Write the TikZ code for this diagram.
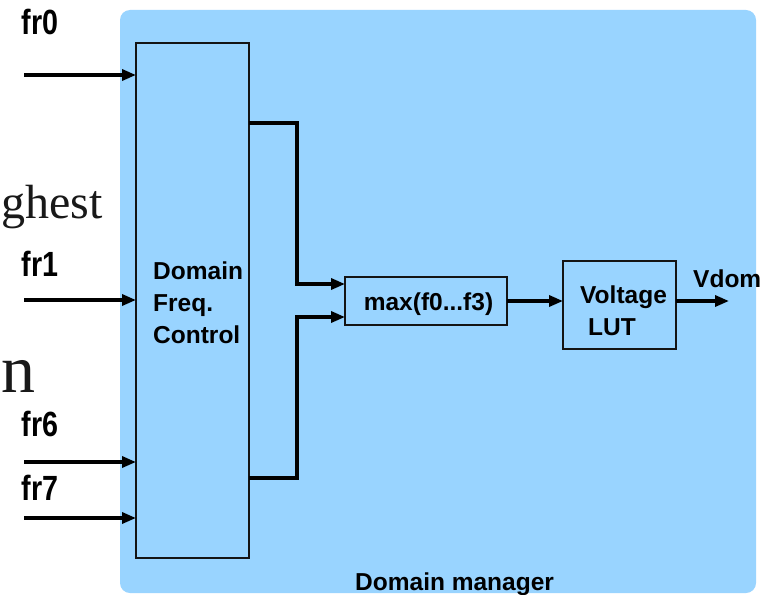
\documentclass[tikz,border=0pt]{standalone}
\usepackage{fontspec}
\setmainfont{Liberation Sans}
\newfontfamily\serifx{Liberation Serif}
\usetikzlibrary{arrows.meta}
\definecolor{bluebg}{RGB}{153,212,255}
\definecolor{edge}{RGB}{20,20,20}
\tikzset{
  box/.style={draw=edge, line width=1.1pt, fill=bluebg, inner sep=0pt, outer sep=0pt},
  wire/.style={line width=3.3pt, black},
  arr/.style={-{Triangle[length=14pt,width=11pt]}},
  lbl/.style={font=\fontsize{24.5}{32}\selectfont\bfseries, inner sep=0pt, align=left},
  frl/.style={font=\fontsize{35}{35}\selectfont\bfseries, inner sep=0pt, xscale=0.82}
}
\begin{document}
\begin{tikzpicture}[x=1pt,y=-1pt]
\useasboundingbox (0,0) rectangle (762,594);
\fill[white] (0,0) rectangle (762,594);
% background text fragments
\node[font=\fontsize{48}{48}\selectfont\serifx, inner sep=0pt, anchor=base west, text=black!90] (t1) at (1,218) {ghest};
\node[font=\fontsize{68}{68}\selectfont\serifx, inner sep=0pt, anchor=base west, text=black!90] (t2) at (1,392) {n};
% domain manager panel
\fill[bluebg, rounded corners=10pt] (120,10) rectangle (756,593);
\node[lbl, anchor=base west] (dm) at (355,590) {Domain manager};
% domain freq control
\node[box, minimum width=113pt, minimum height=515pt, anchor=north west] (dfc) at (136,43) {};
\node[lbl, anchor=base west] (dfct) at (153,343) {Domain\\Freq.\\Control};
% max box
\node[box, minimum width=162pt, minimum height=48pt] (mx) at (426,301) {};
\node[lbl, anchor=base] (mxt) at (428.5,310) {max(f0...f3)};
% LUT box
\node[box, minimum width=113pt, minimum height=88pt] (lut) at (619.5,305) {};
\node[lbl, anchor=base west] (lutt) at (580,335) {Voltage\\\hspace{8pt}LUT};
% input labels
\node[frl, anchor=base] (fr0) at (40,35) {fr0};
\node[frl, anchor=base] (fr1) at (40,276) {fr1};
\node[frl, anchor=base] (fr6) at (40,436) {fr6};
\node[frl, anchor=base] (fr7) at (40,500) {fr7};
% input arrows
\coordinate (i0) at (24,75);
\coordinate (i1) at (24,300);
\coordinate (i6) at (24,462);
\coordinate (i7) at (24,518);
\foreach \c in {i0,i1,i6,i7}
  \draw[wire,arr] (\c) -- (\c -| dfc.west);
% connectors to max
\coordinate (a1) at (297,123);
\coordinate (a2) at (297,284);
\coordinate (b1) at (297,478);
\coordinate (b2) at (297,317);
\draw[wire,arr] (dfc.east |- a1) -- (a1) -- (a2) -- (a2 -| mx.west);
\draw[wire,arr] (dfc.east |- b1) -- (b1) -- (b2) -- (b2 -| mx.west);
% max -> LUT
\draw[wire,arr] (mx.east) -- (mx.east -| lut.west);
% output
\coordinate (vout) at (729,301);
\draw[wire,arr] (vout -| lut.east) -- (vout);
\node[lbl, anchor=base west] (vd) at (693,287) {Vdom};
\end{tikzpicture}
\end{document}
